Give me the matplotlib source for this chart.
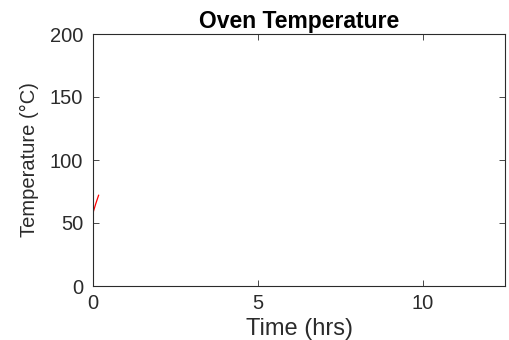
import numpy as np
import matplotlib
matplotlib.use("Agg")
import matplotlib.pyplot as plt

# oven log (first samples only)
time_hrs = [0.0, 0.08, 0.17]
temp_c = [58, 65, 72]

x_ticks = [0, 5, 10]
y_ticks = [0, 50, 100, 150, 200]

plt.rcParams['font.family'] = ['Liberation Sans', 'DejaVu Sans']
grey = '#2b2b2b'

fig = plt.figure(figsize=(5.09, 3.4), dpi=100)
ax = fig.add_axes([93/509, 1 - 286/340, (505-93)/509, (286-34)/340])

ax.plot(time_hrs, temp_c, color='red', lw=0.9)

ax.set_xlim(0, 12.5)
ax.set_ylim(0, 200)
ax.set_xticks(x_ticks)
ax.set_yticks(y_ticks)
ax.tick_params(direction='in', top=True, right=True, length=4, width=0.6,
               labelsize=14.5, colors=grey, labelcolor=grey)
ax.tick_params(axis='x', pad=6)
ax.tick_params(axis='y', pad=7)
for s in ax.spines.values():
    s.set_color(grey)
    s.set_linewidth(0.8)

ax.set_title('Oven Temperature', fontsize=16.5, fontweight='bold', pad=4)
ax.set_xlabel('Time (hrs)', fontsize=17, color=grey, labelpad=3)
ax.set_ylabel('Temperature (°C)', fontsize=14.5, color=grey, labelpad=8)

fig.savefig('out.png', dpi=100)
